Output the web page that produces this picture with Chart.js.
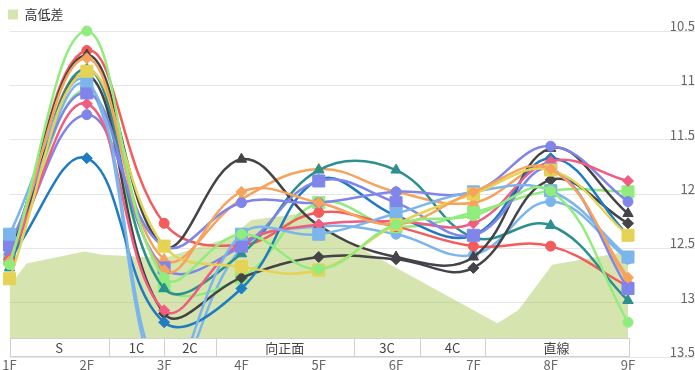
<!DOCTYPE html>
<html lang="ja">
<head>
<meta charset="utf-8">
<title>ラップ推移と高低差</title>
<script src="https://cdn.jsdelivr.net/npm/chart.js@4.4.1/dist/chart.umd.min.js"></script>
<style>
  html, body { margin: 0; padding: 0; background: #fff; }
  #wrap { width: 695px; height: 370px; position: relative; }
</style>
</head>
<body>
<div id="wrap"><canvas id="lapChart"></canvas></div>
<script>
// 1F..9F lap times (sec), one array per race
const FURLONGS = ["1F", "2F", "3F", "4F", "5F", "6F", "7F", "8F", "9F"];

const lapGreenCircle  = [12.65, 10.5, 12.77, 12.37, 12.69, 12.28, 12.2, 11.97, 13.18];
const lapGreenSquare  = [12.6, 11.05, 12.85, 12.77, 12.08, 12.3, 12.17, 11.97, 11.98];
const lapOrangeDia    = [12.62, 10.75, 12.7, 11.98, 12.08, 12.28, 11.98, 11.77, 12.77];
const lapOrangeTri    = [12.6, 10.85, 12.6, 12.05, 11.77, 11.98, 12.08, 11.77, 12.8];
const lapYellowSquare = [12.78, 10.87, 12.48, 12.67, 12.7, 12.28, 12.0, 11.78, 12.38];
const lapBlueSquare   = [12.37, 10.96, 13.7, 12.37, 12.37, 12.18, 11.98, 11.97, 12.58];
const lapBlueCircle   = [12.5, 11.0, 13.8, 12.5, 12.3, 12.37, 12.56, 12.07, 12.6];
const lapPurpleSquare = [12.47, 11.07, 12.68, 12.48, 11.88, 12.08, 12.38, 11.77, 12.87];
const lapPurpleCircle = [12.55, 11.27, 12.48, 12.08, 12.08, 11.98, 11.98, 11.56, 12.07];
const lapPinkDia      = [12.6, 11.17, 13.07, 12.45, 12.28, 12.25, 12.27, 11.7, 11.88];
const lapNavyDia      = [12.6, 11.67, 13.18, 12.87, 11.87, 12.2, 12.38, 11.67, 12.38];
const lapDarkTri      = [12.57, 10.72, 12.48, 11.68, 12.29, 12.58, 12.58, 11.58, 12.18];
const lapDarkDia      = [12.6, 10.9, 13.1, 12.77, 12.58, 12.6, 12.68, 11.87, 12.27];
const lapTealTri      = [12.68, 10.85, 12.87, 12.55, 11.78, 11.78, 12.4, 12.29, 12.98];
const lapRedCircle    = [12.6, 10.68, 12.27, 12.47, 12.17, 12.3, 12.48, 12.48, 12.85];

// course elevation profile, x in furlong units from 1F
const ELEV_X = [0, 0.22, 0.97, 1.2, 2.0, 2.85, 3.13, 3.77, 4.57, 6.31, 6.58, 7.02, 8];
const ELEV_Y = [12.85, 12.64, 12.53, 12.56, 12.59, 12.4, 12.24, 12.18, 12.51, 13.19, 13.07, 12.65, 12.53];

// course sections under the plot
const SECTION_LABELS = ["S", "1C", "2C", "向正面", "3C", "4C", "直線"];
const SECTION_EDGES = [0, 1.285, 2, 2.667, 4.455, 5.31, 6.15, 8];

const PALETTE = {
  green: "#90ed7d",
  orange: "#f7a35c",
  yellow: "#e4d354",
  blue: "#7cb5ec",
  purple: "#8085e9",
  pink: "#f15c80",
  navy: "#1f7bc2",
  dark: "#434348",
  teal: "#2b908f",
  red: "#f45b5b",
  elev: "rgba(164,195,79,0.45)",
  grid: "#e6e6e6",
  text: "#666666",
};

const MARKER_SIZE = { circle: 5, rect: 8.5, rectRot: 5.5, triangle: 6 };

Chart.defaults.font.family = "'Noto Sans CJK JP', 'Noto Sans', sans-serif";
Chart.defaults.color = PALETTE.text;

function lapSeries(label, data, color, marker) {
  return {
    type: "line",
    label,
    data,
    xAxisID: "x",
    yAxisID: "y",
    borderColor: color,
    backgroundColor: color,
    borderWidth: 2.5,
    pointStyle: marker,
    pointRadius: MARKER_SIZE[marker],
    pointBorderWidth: 1,
    tension: 0.4,
    fill: false,
    clip: { left: 10, top: false, right: 10, bottom: 0 },
    order: 0,
  };
}

const sectionTable = {
  id: "sectionTable",
  afterDatasetsDraw(chart) {
    const { ctx, chartArea } = chart;
    const xs = chart.scales.xd;
    const bottom = Math.round(chartArea.bottom) - 0.5;
    const top = bottom - 18;
    ctx.save();
    ctx.fillStyle = "#fff";
    ctx.fillRect(chartArea.left, top, chartArea.right - chartArea.left, bottom - top);
    ctx.strokeStyle = "#d0d0d0";
    ctx.lineWidth = 1;
    ctx.strokeRect(Math.round(chartArea.left) + 0.5, top, Math.round(chartArea.right - chartArea.left), bottom - top);
    ctx.font = "13px 'Noto Sans CJK JP', sans-serif";
    ctx.fillStyle = "#444";
    ctx.textAlign = "center";
    ctx.textBaseline = "middle";
    SECTION_LABELS.forEach((label, i) => {
      const x0 = xs.getPixelForValue(SECTION_EDGES[i]);
      const x1 = xs.getPixelForValue(SECTION_EDGES[i + 1]);
      if (i < SECTION_LABELS.length - 1) {
        ctx.beginPath();
        ctx.moveTo(Math.round(x1) + 0.5, top);
        ctx.lineTo(Math.round(x1) + 0.5, bottom);
        ctx.stroke();
      }
      ctx.fillText(label, (x0 + x1) / 2, (top + bottom) / 2 + 1);
    });
    ctx.restore();
  },
};

const datasets = [
  lapSeries("ラップ1", lapGreenCircle, PALETTE.green, "circle"),
  lapSeries("ラップ2", lapOrangeDia, PALETTE.orange, "rectRot"),
  lapSeries("ラップ3", lapYellowSquare, PALETTE.yellow, "rect"),
  lapSeries("ラップ4", lapBlueSquare, PALETTE.blue, "rect"),
  lapSeries("ラップ5", lapPurpleSquare, PALETTE.purple, "rect"),
  lapSeries("ラップ6", lapPinkDia, PALETTE.pink, "rectRot"),
  lapSeries("ラップ7", lapPurpleCircle, PALETTE.purple, "circle"),
  lapSeries("ラップ8", lapNavyDia, PALETTE.navy, "rectRot"),
  lapSeries("ラップ9", lapDarkTri, PALETTE.dark, "triangle"),
  lapSeries("ラップ10", lapDarkDia, PALETTE.dark, "rectRot"),
  lapSeries("ラップ11", lapTealTri, PALETTE.teal, "triangle"),
  lapSeries("ラップ12", lapRedCircle, PALETTE.red, "circle"),
  lapSeries("ラップ13", lapOrangeTri, PALETTE.orange, "triangle"),
  lapSeries("ラップ14", lapGreenSquare, PALETTE.green, "rect"),
  lapSeries("ラップ15", lapBlueCircle, PALETTE.blue, "circle"),
  {
    type: "line",
    label: "高低差",
    data: ELEV_X.map((x, i) => ({ x, y: ELEV_Y[i] })),
    xAxisID: "xd",
    yAxisID: "y",
    backgroundColor: PALETTE.elev,
    borderColor: PALETTE.elev,
    borderWidth: 0,
    pointRadius: 0,
    tension: 0,
    fill: "start",
    order: 10,
  },
];

new Chart(document.getElementById("lapChart"), {
  data: { labels: FURLONGS, datasets },
  options: {
    responsive: true,
    maintainAspectRatio: false,
    animation: false,
    events: [],
    layout: { padding: { top: 0, left: 0, right: 0, bottom: 0 } },
    plugins: {
      tooltip: { enabled: false },
      legend: {
        position: "top",
        align: "start",
        labels: {
          boxWidth: 10,
          boxHeight: 10,
          padding: 8,
          color: "#333",
          font: { size: 13 },
          filter: (item) => item.text === "高低差",
        },
      },
    },
    scales: {
      x: {
        type: "category",
        offset: false,
        grid: { display: false },
        border: { display: false },
        ticks: { color: PALETTE.text, font: { size: 13 }, padding: -8, maxRotation: 0, autoSkip: false },
        afterFit(scale) { scale.height = 13; },
      },
      xd: { type: "linear", min: 0, max: 8, display: false },
      y: {
        position: "right",
        reverse: true,
        min: 10.5,
        max: 13.5,
        grid: { color: PALETTE.grid, tickLength: 67, drawTicks: true },
        border: { display: false },
        ticks: {
          stepSize: 0.5,
          color: PALETTE.text,
          font: { size: 13 },
          crossAlign: "far",
          padding: -33,
          labelOffset: -5,
          callback: (value) => String(Number(value)),
        },
        afterFit(scale) { scale.width = 67; },
      },
    },
  },
  plugins: [sectionTable],
});
</script>
</body>
</html>
